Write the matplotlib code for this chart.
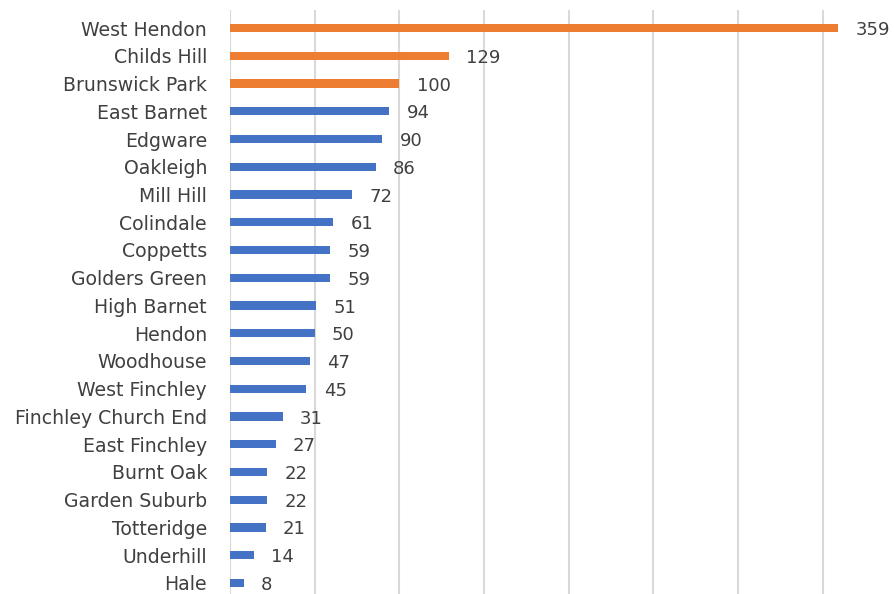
import matplotlib
matplotlib.use("Agg")
import matplotlib.pyplot as plt

# wards, top to bottom
wards = [
    "West Hendon", "Childs Hill", "Brunswick Park", "East Barnet", "Edgware",
    "Oakleigh", "Mill Hill", "Colindale", "Coppetts", "Golders Green",
    "High Barnet", "Hendon", "Woodhouse", "West Finchley",
    "Finchley Church End", "East Finchley", "Burnt Oak", "Garden Suburb",
    "Totteridge", "Underhill", "Hale",
]
counts = [359, 129, 100, 94, 90, 86, 72, 61, 59, 59, 51, 50, 47, 45,
          31, 27, 22, 22, 21, 14, 8]
n_highlight = 3  # top three in orange

orange = "#ED7D31"
blue = "#4472C4"
text_col = "#404040"

plt.rcParams["font.family"] = ["DejaVu Sans"]

fig = plt.figure(figsize=(8.94, 5.94), dpi=100)
ax = fig.add_axes([230 / 894, 0.0, 1 - 230 / 894, 1 - 10 / 594])

colors = [orange if i < n_highlight else blue for i in range(len(wards))]
ypos = list(range(len(wards)))
ax.barh(ypos, counts, height=0.3, color=colors, zorder=3)

# value labels
for y, v in zip(ypos, counts):
    ax.annotate(str(v), (v, y), xytext=(12.5, -1.5), textcoords="offset points",
                ha="left", va="center", fontsize=13, color=text_col)

ax.set_yticks(ypos)
ax.set_yticklabels(wards, fontsize=13.6, color=text_col)
ax.tick_params(axis="y", length=0, pad=16.5)
ax.tick_params(axis="x", length=0, labelbottom=False)

ax.set_xlim(0, 392)
ax.set_ylim(20.4, -0.65)
ax.set_xticks(range(0, 400, 50))
ax.grid(axis="x", color="#d9d9d9", linewidth=1.5, zorder=0)
ax.grid(axis="y", visible=False)
for s in ax.spines.values():
    s.set_visible(False)

fig.savefig("out.png", dpi=100)
